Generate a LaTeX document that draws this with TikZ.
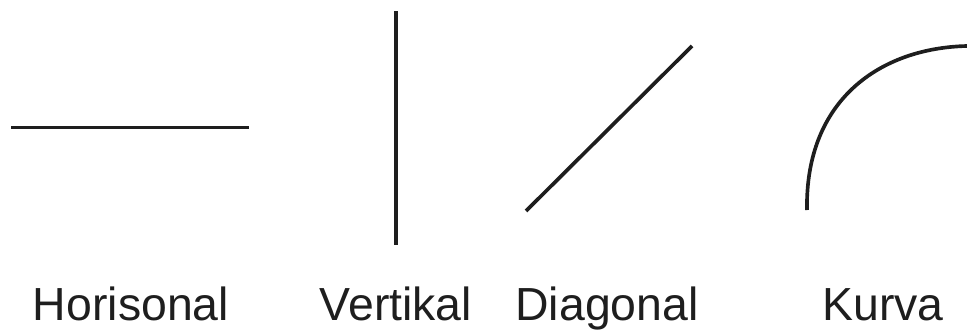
\documentclass[tikz,border=0pt]{standalone}
\usepackage{fontspec}
\setmainfont{Liberation Sans}
\definecolor{strek}{HTML}{1E1E1E}
\tikzset{
  linje/.style={line width=2.6pt, draw=strek},
  navn/.style={anchor=base, text=strek, font=\fontsize{33}{40}\selectfont, inner sep=0pt}
}
\begin{document}
\begin{tikzpicture}[x=0.025cm, y=-0.025cm]
  \useasboundingbox (0,0) rectangle (967,329);

  % --- horisontal ---
  \coordinate (h1) at (11,127.5);
  \coordinate (h2) at (249,127.5);
  \draw[linje] (h1) -- (h2);
  \node[navn] (horisonal) at (131,320) {Horisonal};

  % --- vertikal ---
  \coordinate (v1) at (396,11);
  \coordinate (v2) at (396,245);
  \draw[linje] (v1) -- (v2);
  \node[navn] (vertikal) at (396,320) {Vertikal};

  % --- diagonal ---
  \coordinate (d1) at (526,211);
  \coordinate (d2) at (692,46);
  \draw[linje] (d1) -- (d2);
  \node[navn] (diagonal) at (607,320) {Diagonal};

  % --- kurve ---
  \coordinate (k1) at (807,210);
  \coordinate (k2) at (967,46);
  \draw[linje] (k1) .. controls (805,100) and (880,48) .. (k2);
  \node[navn] (kurva) at (883,320) {Kurva};

\end{tikzpicture}
\end{document}
